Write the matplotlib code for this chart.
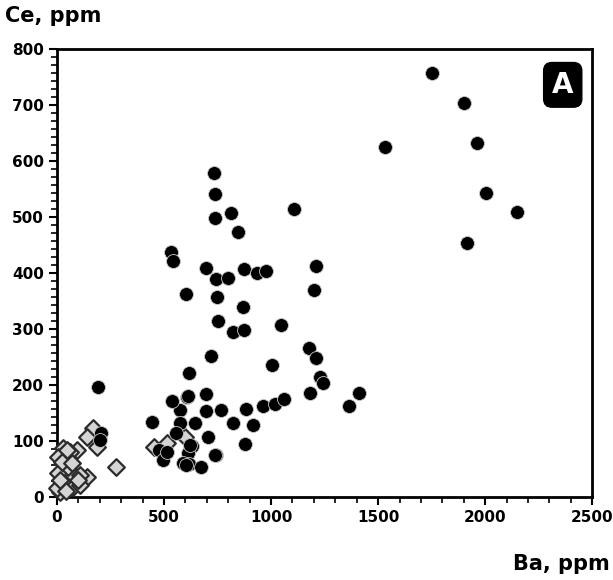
import matplotlib.pyplot as plt
from matplotlib.ticker import MultipleLocator

# Ba, Ce (ppm) - black circles
ba_c = [1752, 1902, 1963, 2005, 2150, 1916, 1533, 1107,
        734, 738, 738, 813, 846, 533, 542, 696, 874, 935, 977, 743, 799,
        1210, 1201, 603, 748, 869, 752, 1047, 822, 874, 720, 1005, 617,
        1178, 1210, 1229, 1243, 607, 696, 575, 696, 766, 883, 963, 1019,
        1061, 1182, 1411, 1364, 575, 645, 822, 916, 706, 631, 879, 612,
        743, 617, 673, 589, 191, 205, 200, 446, 538, 610, 556, 476, 495,
        514, 621, 603, 738, 30, 55]
ce_c = [757, 704, 632, 543, 509, 454, 625, 514,
        578, 541, 498, 507, 473, 438, 421, 409, 407, 400, 404, 389, 391,
        413, 370, 362, 357, 339, 314, 307, 295, 298, 252, 236, 221,
        266, 248, 214, 204, 179, 184, 155, 154, 155, 157, 162, 166,
        175, 186, 186, 163, 132, 132, 132, 129, 107, 91, 95, 78,
        75, 59, 54, 60, 196, 115, 102, 134, 171, 180, 114, 84, 66,
        80, 93, 57, 75, 60, 30]

# gray diamonds
ba_d = [453, 514, 598, 168, 140, 187, 276, 140, 93, 28, 61, 37, 33, 75,
        107, 28, 14, 0, 75, 107, 5, 5, 51, 47, 23, 70, 98, 14, 40]
ce_d = [90, 96, 107, 123, 107, 89, 54, 36, 84, 88, 80, 71, 48, 39,
        39, 25, 9, 16, 18, 21, 43, 71, 54, 84, 62, 60, 30, 30, 10]

fig = plt.figure(figsize=(6.13, 5.8), dpi=100)
ax = fig.add_axes([0.093, 0.143, 0.873, 0.7725])

# circles hidden in the low cluster sit under the diamonds
lo = [i for i in range(len(ba_c)) if ba_c[i] < 100]
hi = [i for i in range(len(ba_c)) if ba_c[i] >= 100]
ax.scatter([ba_c[i] for i in lo], [ce_c[i] for i in lo], marker='o', s=100,
           facecolor='black', edgecolor='#c8c8c8', linewidth=0.6, zorder=2, clip_on=False)
ax.scatter(ba_d, ce_d, marker='D', s=72, facecolor='#d4d4d4', edgecolor='#2b2b2b',
           linewidth=1.6, zorder=3, clip_on=False)
ax.scatter([ba_c[i] for i in hi], [ce_c[i] for i in hi], marker='o', s=100,
           facecolor='black', edgecolor='#c8c8c8', linewidth=0.6, zorder=4, clip_on=False)

ax.set_xlim(0, 2500)
ax.set_ylim(0, 800)
ax.xaxis.set_major_locator(MultipleLocator(500))
ax.xaxis.set_minor_locator(MultipleLocator(100))
ax.yaxis.set_major_locator(MultipleLocator(100))
ax.yaxis.set_minor_locator(MultipleLocator(100 / 7))
ax.tick_params(which='major', length=6, width=1.5, direction='out')
ax.tick_params(which='minor', length=4, width=1.2, direction='out')
for s in ax.spines.values():
    s.set_linewidth(2)
for lab in ax.get_xticklabels() + ax.get_yticklabels():
    lab.set_fontweight('bold')
    lab.set_fontsize(11)

fig.text(0.008, 0.99, 'Ce, ppm', fontsize=15, fontweight='bold', va='top', ha='left')
fig.text(0.995, 0.01, 'Ba, ppm', fontsize=15, fontweight='bold', va='bottom', ha='right')

ax.text(0.945, 0.92, 'A', transform=ax.transAxes, fontsize=20, fontweight='bold',
        color='white', ha='center', va='center',
        bbox=dict(boxstyle='round,pad=0.3,rounding_size=0.3', facecolor='black',
                  edgecolor='black'))

fig.savefig('out.png', dpi=100)
